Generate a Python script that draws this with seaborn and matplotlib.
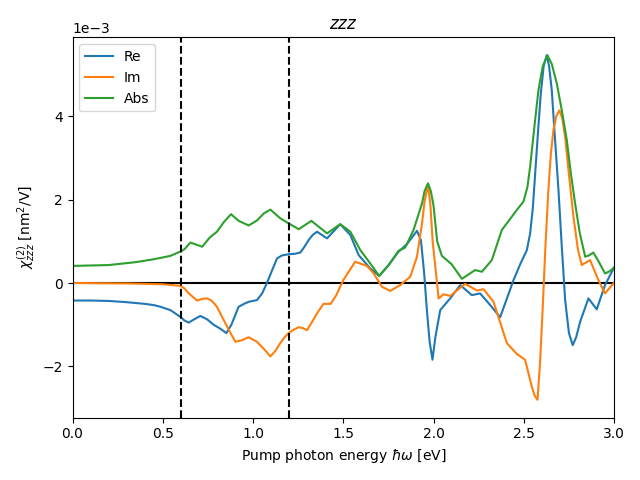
import numpy as np
import seaborn as sns
import matplotlib
matplotlib.use("Agg")
import matplotlib.pyplot as plt

# values, in units of 1e-3 nm^2/V
re_x = [0.0, 0.1, 0.2, 0.3, 0.4, 0.45, 0.487, 0.542, 0.6, 0.62, 0.644, 0.67,
        0.708, 0.745, 0.782, 0.82, 0.852, 0.88, 0.92, 0.95, 0.976, 1.022,
        1.05, 1.077, 1.105, 1.133, 1.16, 1.197, 1.23, 1.262, 1.285, 1.308,
        1.33, 1.354, 1.41, 1.483, 1.539, 1.585, 1.649, 1.699, 1.751, 1.806,
        1.852, 1.908, 1.93, 1.948, 1.963, 1.978, 1.994, 2.01, 2.037, 2.092,
        2.148, 2.212, 2.258, 2.314, 2.369, 2.443, 2.48, 2.517, 2.535, 2.55,
        2.563, 2.58, 2.594, 2.61, 2.627, 2.64, 2.655, 2.672, 2.692, 2.71,
        2.729, 2.75, 2.771, 2.79, 2.812, 2.858, 2.904, 2.95, 3.0]
re_y = [-0.42, -0.42, -0.43, -0.46, -0.5, -0.53, -0.57, -0.65, -0.82, -0.9,
        -0.95, -0.88, -0.79, -0.87, -1.0, -1.1, -1.2, -1.0, -0.57, -0.5,
        -0.45, -0.41, -0.25, 0.0, 0.3, 0.59, 0.66, 0.69, 0.7, 0.73, 0.87,
        1.03, 1.15, 1.23, 1.07, 1.41, 1.15, 0.67, 0.35, 0.17, 0.43, 0.75,
        0.93, 1.25, 1.03, 0.23, -0.65, -1.4, -1.84, -1.3, -0.65, -0.37, -0.05,
        -0.29, -0.25, -0.53, -0.82, 0.07, 0.45, 0.79, 1.19, 1.8, 2.63, 3.7,
        4.54, 5.2, 5.46, 5.2, 4.62, 3.5, 2.23, 0.9, -0.41, -1.2, -1.49, -1.3,
        -0.93, -0.37, -0.63, -0.05, 0.37]

im_x = [0.0, 0.3, 0.5, 0.6, 0.62, 0.644, 0.69, 0.72, 0.745, 0.77, 0.8,
        0.847, 0.875, 0.902, 0.94, 0.976, 1.022, 1.06, 1.096, 1.125, 1.151,
        1.175, 1.197, 1.225, 1.253, 1.275, 1.299, 1.325, 1.354, 1.39, 1.43,
        1.46, 1.5, 1.566, 1.631, 1.668, 1.714, 1.76, 1.815, 1.871, 1.908,
        1.936, 1.95, 1.969, 1.982, 1.995, 2.028, 2.055, 2.092, 2.175, 2.24,
        2.277, 2.332, 2.406, 2.461, 2.507, 2.544, 2.56, 2.576, 2.59, 2.605,
        2.62, 2.636, 2.65, 2.664, 2.68, 2.697, 2.713, 2.729, 2.75, 2.775, 2.8,
        2.821, 2.867, 2.913, 2.95, 3.0]
im_y = [0.0, -0.01, -0.03, -0.07, -0.13, -0.25, -0.42, -0.38, -0.37, -0.42,
        -0.57, -0.97, -1.2, -1.41, -1.37, -1.3, -1.41, -1.58, -1.76, -1.62,
        -1.44, -1.3, -1.2, -1.12, -1.06, -1.08, -1.13, -0.95, -0.73, -0.5,
        -0.5, -0.3, 0.07, 0.51, 0.41, 0.23, -0.09, -0.19, -0.05, 0.15, 0.63,
        1.43, 1.95, 2.35, 1.9, 1.0, -0.37, -0.27, -0.31, -0.02, -0.18, -0.15,
        -0.45, -1.44, -1.7, -1.84, -2.48, -2.7, -2.8, -1.9, -0.57, 0.9, 2.23,
        3.1, 3.66, 4.0, 4.14, 3.95, 3.5, 2.6, 1.59, 0.8, 0.43, 0.55, 0.07,
        -0.25, 0.01]

abs_x = [0.0, 0.2, 0.35, 0.45, 0.542, 0.6, 0.62, 0.653, 0.718, 0.76, 0.8,
         0.84, 0.878, 0.92, 0.976, 1.022, 1.06, 1.096, 1.151, 1.197, 1.253,
         1.323, 1.41, 1.483, 1.539, 1.594, 1.649, 1.699, 1.751, 1.806, 1.843,
         1.889, 1.936, 1.95, 1.969, 1.985, 2.0, 2.02, 2.046, 2.1, 2.157, 2.23,
         2.268, 2.323, 2.378, 2.461, 2.498, 2.52, 2.535, 2.56, 2.581, 2.605,
         2.631, 2.655, 2.683, 2.71, 2.738, 2.76, 2.784, 2.81, 2.84, 2.86,
         2.885, 2.91, 2.95, 2.975, 3.0]
abs_y = [0.41, 0.43, 0.5, 0.57, 0.65, 0.76, 0.81, 0.97, 0.87, 1.09, 1.23,
         1.47, 1.65, 1.49, 1.38, 1.5, 1.67, 1.76, 1.55, 1.43, 1.29, 1.49,
         1.19, 1.41, 1.23, 0.79, 0.47, 0.17, 0.43, 0.77, 0.85, 1.27, 1.91,
         2.2, 2.39, 2.2, 1.85, 1.0, 0.65, 0.45, 0.1, 0.31, 0.27, 0.55, 1.27,
         1.75, 1.95, 2.3, 2.79, 3.8, 4.62, 5.2, 5.46, 5.25, 4.78, 4.15, 3.43,
         2.65, 1.91, 1.2, 0.63, 0.66, 0.73, 0.55, 0.23, 0.28, 0.37]

window = [0.6, 1.2]
scale = 1e-3

fig, ax = plt.subplots(figsize=(6.4, 4.8), dpi=100)

sns.lineplot(x=re_x, y=np.array(re_y) * scale, label="Re", color="C0", ax=ax)
sns.lineplot(x=im_x, y=np.array(im_y) * scale, label="Im", color="C1", ax=ax)
sns.lineplot(x=abs_x, y=np.array(abs_y) * scale, label="Abs", color="C2", ax=ax)

ax.axhline(0, color="black", linewidth=1.5, zorder=1)
for w in window:
    ax.axvline(w, color="black", linestyle="--", linewidth=1.5)

ax.set_xlim(0, 3)
ax.set_ylim(-3.23e-3, 5.89e-3)
ax.ticklabel_format(axis="y", style="sci", scilimits=(0, 0))
ax.set_title("$zzz$")
ax.set_xlabel(r"Pump photon energy $\hbar\omega$ [eV]")
ax.set_ylabel(r"$\chi^{(2)}_{zzz}$ [nm$^2$/V]")
ax.legend(loc="upper left")

plt.tight_layout()
plt.savefig("out.png")
